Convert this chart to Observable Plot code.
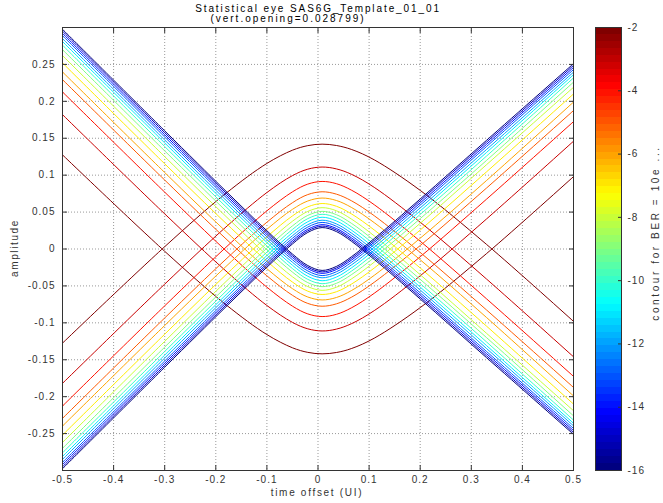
<!DOCTYPE html>
<html><head><meta charset="utf-8">
<script src="https://cdn.jsdelivr.net/npm/d3@7"></script>
<script src="https://cdn.jsdelivr.net/npm/@observablehq/plot@0.6"></script>
<style>
html,body{margin:0;padding:0;background:#fff;}
#wrap{position:relative;width:663px;height:503px;overflow:hidden;font-family:"Liberation Sans",Arial,sans-serif;}
#wrap svg{position:absolute;top:0;}
.lbl{position:absolute;white-space:nowrap;font-size:10px;line-height:12px;color:#333;}
</style></head><body><div id="wrap"></div>
<script>
// ---- data ----
const titleLine1 = "Statistical eye SAS6G_Template_01_01";
const titleLine2 = "(vert.opening=0.028799)";
const xLabel = "time offset (UI)";
const yLabel = "amplitude";
const cbLabel = "contour for BER = 10e ...";
const xTicks = [-0.5, -0.4, -0.3, -0.2, -0.1, 0, 0.1, 0.2, 0.3, 0.4, 0.5];
const yTicks = [-0.25, -0.2, -0.15, -0.1, -0.05, 0, 0.05, 0.1, 0.15, 0.2, 0.25];
const cbTicks = [-16, -14, -12, -10, -8, -6, -4, -2];
// contour levels (log10 BER)
const levels = [-2, -3, -4, -5, -6, -7, -8, -9, -10, -11, -12, -13, -14, -15, -16];
// sample time offsets (UI) where each contour's upper branch was read
const xs = [-0.5, -0.3, -0.18, -0.1, -0.05, -0.02, 0.008, 0.036, 0.066, 0.11, 0.2, 0.33, 0.5];
// upper branch amplitude of each contour (lower branch is its mirror image)
const u2  = [-0.1275, 0.0031, 0.0755, 0.1159, 0.1338, 0.1400, 0.142, 0.1402, 0.1347, 0.1208, 0.0794, 0.0061, -0.098];
const u3  = [-0.182, -0.0476, 0.0299, 0.0765, 0.0994, 0.1081, 0.111, 0.1085, 0.1010, 0.0835, 0.0363, -0.0408, -0.146];
const u4  = [-0.2127, -0.0770, 0.0024, 0.0517, 0.0774, 0.0879, 0.0915, 0.0885, 0.0795, 0.0600, 0.0105, -0.0676, -0.1725];
const u5  = [-0.2294, -0.0934, -0.0137, 0.0363, 0.0627, 0.0737, 0.0775, 0.0743, 0.0651, 0.0451, -0.0047, -0.0827, -0.1875];
const u6  = [-0.2398, -0.1036, -0.0236, 0.0267, 0.0537, 0.0650, 0.069, 0.0657, 0.0561, 0.0357, -0.0146, -0.0929, -0.199];
const u7  = [-0.252, -0.1154, -0.0348, 0.0165, 0.0448, 0.0571, 0.0616, 0.0579, 0.0473, 0.0258, -0.0257, -0.1046, -0.21];
const u8  = [-0.262, -0.1251, -0.0440, 0.0082, 0.0376, 0.0509, 0.056, 0.0518, 0.0403, 0.0178, -0.0348, -0.1143, -0.219];
const u9  = [-0.270, -0.1329, -0.0515, 0.0012, 0.0313, 0.0455, 0.051, 0.0465, 0.0345, 0.0115, -0.0411, -0.1201, -0.226];
const u10 = [-0.276, -0.1388, -0.0572, -0.0042, 0.0265, 0.0411, 0.047, 0.0422, 0.0297, 0.0063, -0.0468, -0.1260, -0.2317];
const u11 = [-0.281, -0.1437, -0.0620, -0.0089, 0.0220, 0.0369, 0.043, 0.0380, 0.0253, 0.0016, -0.0516, -0.1309, -0.236];
const u12 = [-0.285, -0.1477, -0.0660, -0.0129, 0.0180, 0.0329, 0.039, 0.0340, 0.0213, -0.0024, -0.0556, -0.1349, -0.2395];
const u13 = [-0.289, -0.1517, -0.0699, -0.0166, 0.0145, 0.0297, 0.036, 0.0308, 0.0178, -0.0061, -0.0594, -0.1389, -0.243];
const u14 = [-0.292, -0.1547, -0.0729, -0.0196, 0.0115, 0.0267, 0.033, 0.0278, 0.0148, -0.0091, -0.0624, -0.1419, -0.2459];
const u15 = [-0.295, -0.1576, -0.0758, -0.0223, 0.0090, 0.0245, 0.031, 0.0257, 0.0124, -0.0117, -0.0653, -0.1448, -0.2486];
const u16 = [-0.2975, -0.1601, -0.0782, -0.0247, 0.0068, 0.0224, 0.029, 0.0236, 0.0102, -0.0141, -0.0677, -0.1473, -0.251];
const upperCurves = [u2, u3, u4, u5, u6, u7, u8, u9, u10, u11, u12, u13, u14, u15, u16];

// ---- styling helpers ----
function jet(t) {
  const c = v => Math.round(255 * Math.max(0, Math.min(1, v)));
  return `rgb(${c(1.5 - Math.abs(4 * t - 3))},${c(1.5 - Math.abs(4 * t - 2))},${c(1.5 - Math.abs(4 * t - 1))})`;
}
const levelColor = L => jet((L + 16) / 14);
const fmt = d => (d === 0 ? "0" : String(d));

const rows = [];
levels.forEach((L, i) => {
  const u = upperCurves[i];
  xs.forEach((x, j) => rows.push({level: L, branch: "upper", x, y: u[j]}));
  xs.forEach((x, j) => rows.push({level: L, branch: "lower", x, y: -u[j]}));
});

const baseStyle = {fontFamily: "'Liberation Sans', Arial, sans-serif", fontSize: "10px", color: "#333", background: "transparent", letterSpacing: "1px", overflow: "visible"};
const grid = {stroke: "#999", strokeOpacity: 1, strokeDasharray: "1,2", strokeWidth: 1};

const main = Plot.plot({
  width: 590, height: 503,
  marginLeft: 62, marginRight: 17, marginTop: 27, marginBottom: 33,
  x: {domain: [-0.5, 0.5]},
  y: {domain: [-0.3, 0.3]},
  color: {type: "identity"},
  style: baseStyle,
  marks: [
    Plot.gridX(xTicks, grid),
    Plot.gridY(yTicks, grid),
    Plot.line(rows, {x: "x", y: "y", z: d => d.level + d.branch, stroke: d => levelColor(d.level), curve: "catmull-rom", strokeWidth: 1, clip: true}),
    Plot.frame({stroke: "#333"}),
    Plot.axisX(xTicks, {anchor: "bottom", tickSize: 0, tickPadding: 5, tickFormat: fmt, label: null}),
    Plot.axisX(xTicks, {anchor: "bottom", tickSize: -5, fill: "none", label: null}),
    Plot.axisX(xTicks, {anchor: "top", tickSize: -5, fill: "none", label: null}),
    Plot.axisY(yTicks, {anchor: "left", tickSize: 0, tickPadding: 7, tickFormat: fmt, label: null}),
    Plot.axisY(yTicks, {anchor: "left", tickSize: -5, fill: "none", label: null}),
    Plot.axisY(yTicks, {anchor: "right", tickSize: -5, fill: "none", label: null})
  ]
});
main.style.left = "0px";

// colorbar: 64 bands of the jet colormap
const nBands = 64;
const bands = d3.range(nBands).map(i => ({y1: -16 + i * 14 / nBands, y2: -16 + (i + 1) * 14 / nBands, fill: jet(i / (nBands - 1))}));
const cbar = Plot.plot({
  width: 73, height: 503,
  marginLeft: 5, marginRight: 42, marginTop: 27, marginBottom: 33,
  x: {domain: [0, 1], axis: null},
  y: {domain: [-16, -2]},
  color: {type: "identity"},
  style: baseStyle,
  marks: [
    Plot.rect(bands, {x1: 0, x2: 1, y1: "y1", y2: "y2", fill: "fill", shapeRendering: "crispEdges"}),
    Plot.frame({stroke: "#333"}),
    Plot.axisY(cbTicks, {anchor: "right", tickSize: 0, tickPadding: 6, tickFormat: d => String(d), label: null}),
    Plot.axisY(cbTicks, {anchor: "right", tickSize: -4, fill: "none", label: null})
  ]
});
cbar.style.left = "590px";

const wrap = document.getElementById("wrap");
wrap.appendChild(main);
wrap.appendChild(cbar);

function addLabel(text, cx, cy, opts = {}) {
  const d = document.createElement("div");
  d.className = "lbl";
  d.textContent = text;
  d.style.left = cx + "px";
  d.style.top = cy + "px";
  d.style.letterSpacing = (opts.ls || 1.6) + "px";
  if (opts.dark) { d.style.color = "#000"; }
  d.style.transform = "translate(-50%,-50%)" + (opts.rotate ? " rotate(-90deg)" : "");
  wrap.appendChild(d);
}
addLabel(titleLine1, 318, 8.5, {dark: true, ls: 1.9});
addLabel(titleLine2, 288, 19, {dark: true, ls: 2.0});
addLabel(xLabel, 317, 493, {ls: 1.7});
addLabel(yLabel, 15, 248, {rotate: true, ls: 1.6});
addLabel(cbLabel, 656, 233, {rotate: true, ls: 2.6});
</script></body></html>
